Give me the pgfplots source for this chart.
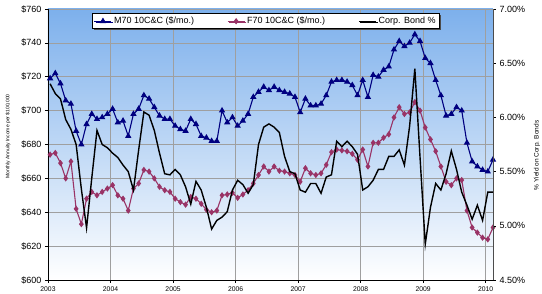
\documentclass[border=0pt]{standalone}
\usepackage{pgfplots}
\pgfplotsset{compat=1.18}
\usepackage{pgfplotstable}
\usepackage{fontspec}
\setmainfont{Liberation Sans}
\usetikzlibrary{shadows}
\definecolor{mblue}{RGB}{0,0,128}
\definecolor{fplum}{RGB}{153,51,102}
\definecolor{bgtop}{RGB}{125,176,236}
\definecolor{bgmid}{RGB}{200,223,247}
\pgfplotstableread{
m m70 f70
0 719 674
1 722 675
2 716 669
3 706 660
4 704 670
5 688 642
6 680 633
7 692 648
8 698 652
9 695 650
10 696 652
11 698 654
12 701 656
13 693 650
14 694 648
15 685 641
16 698 654
17 701 657
18 709 665
19 707 664
20 702 660
21 697 655
22 695 653
23 695 652
24 691 648
25 689 646
26 688 644.5
27 695 649
28 692 648
29 685 645
30 684 641.5
31 682 640
32 682 641
33 700 650
34 693 650.5
35 696 651.5
36 691 648.5
37 694 650.5
38 698 653
39 708 657
40 711 662
41 714 667
42 712 664
43 714 667
44 712 664.5
45 711 664
46 710 663
47 708 662
48 699 658
49 707 666
50 703 663
51 703 662
52 704 663
53 709 668
54 717 675.5
55 718 677
56 718 676.5
57 717 676
58 715 674.5
59 709 671
60 718 677
61 708 667
62 721 681
63 720 681
64 724 684
65 726 686
66 736 696
67 741 702
68 738 698
69 740 699
70 745 705
71 741 700
72 731 690
73 728 683
74 718 676
75 709 667
76 697 658
77 698 656
78 702 660
79 700 659
80 681 641
81 670 631
82 667 628
83 665 625
84 664 624
85 671 631
}\annuity
\pgfplotstableread{
m bond
0 6.31
1 6.22
2 6.17
3 5.98
4 5.89
5 5.75
6 5.34
7 4.98
8 5.44
9 5.88
10 5.75
11 5.72
12 5.67
13 5.63
14 5.56
15 5.50
16 5.33
17 5.70
18 6.05
19 6.02
20 5.88
21 5.67
22 5.48
23 5.47
24 5.52
25 5.47
26 5.36
27 5.20
28 5.41
29 5.33
30 5.17
31 4.97
32 5.05
33 5.08
34 5.13
35 5.33
36 5.42
37 5.38
38 5.30
39 5.38
40 5.75
41 5.91
42 5.94
43 5.91
44 5.86
45 5.64
46 5.50
47 5.48
48 5.33
49 5.31
50 5.39
51 5.39
52 5.30
53 5.45
54 5.47
55 5.78
56 5.73
57 5.78
58 5.73
59 5.66
60 5.33
61 5.36
62 5.42
63 5.52
64 5.52
65 5.64
66 5.64
67 5.70
68 5.56
69 5.92
70 6.45
71 5.63
72 4.83
73 5.17
74 5.39
75 5.33
76 5.48
77 5.69
78 5.52
79 5.31
80 5.19
81 5.06
82 5.19
83 5.05
84 5.31
85 5.31
}\bond
\begin{document}
\begin{tikzpicture}
\useasboundingbox (-48pt,-14pt) rectangle (494pt,280pt);
\begin{axis}[
  at={(0,0)}, anchor=south west,
  scale only axis, width=445pt, height=271pt,
  xmin=-0.4, xmax=85, ymin=600, ymax=760,
  axis x line*=bottom, axis y line*=left,
  axis line style={-, black, line width=0.6pt},
  axis background/.style={top color=bgtop, middle color=bgmid, bottom color=white},
  xtick={-0.4,11.6,23.6,35.6,47.6,59.6,71.6,83.6},
  xticklabels={2003,2004,2005,2006,2007,2008,2009,2010},
  ytick={600,620,640,660,680,700,720,740,760},
  yticklabels={\$600,\$620,\$640,\$660,\$680,\$700,\$720,\$740,\$760},
  xticklabel style={font=\fontsize{6.8}{8}\selectfont},
  yticklabel style={font=\fontsize{9}{10}\selectfont},
  tick align=outside, major tick length=3pt,
  tick style={black, line width=0.5pt},
  xmajorgrids, ymajorgrids,
  major grid style={gray!75, line width=0.5pt},
  ylabel={Monthly Annuity Income per \$100,000},
  ylabel style={font=\fontsize{5}{6}\selectfont, at={(axis description cs:-0.09,0.53)}, anchor=center},
  legend columns=3,
  legend style={at={(0.099,0.984)}, anchor=north west, draw=black, fill=white,
    font=\fontsize{9}{10}\selectfont, inner sep=1.5pt, line width=0.6pt,
    drop shadow={shadow xshift=1.5pt, shadow yshift=-1.5pt, fill=black!70, opacity=1},
    /tikz/every even column/.append style={column sep=31pt}},
  legend image code/.code={\draw[mark repeat=2,mark phase=2] plot coordinates {(0cm,0cm) (0.3cm,0cm) (0.6cm,0cm)};},
]
\addplot[mblue, line width=1.1pt, mark=triangle*, mark size=2.6pt, mark options={solid}] table[x=m, y=m70] {\annuity};
\addlegendentry{M70 10C\&C (\$/mo.)}
\addplot[fplum, line width=1.1pt, mark=diamond*, mark size=2.3pt, mark options={solid}] table[x=m, y=f70] {\annuity};
\addlegendentry{F70 10C\&C (\$/mo.)}
\addlegendimage{black, line width=1.4pt}
\addlegendentry{Corp. Bond \%}
\end{axis}
\begin{axis}[
  at={(0,0)}, anchor=south west,
  scale only axis, width=445pt, height=271pt,
  xmin=-0.4, xmax=85, ymin=4.5, ymax=7.0,
  axis x line=none, axis y line*=right,
  axis line style={-, black!70, line width=0.6pt},
  ytick={4.5,5.0,5.5,6.0,6.5,7.0},
  yticklabels={4.50\%,5.00\%,5.50\%,6.00\%,6.50\%,7.00\%},
  yticklabel style={font=\fontsize{9}{10}\selectfont},
  tick align=outside, major tick length=3pt,
  tick style={black, line width=0.5pt},
  ylabel={\% Yield on Corp. Bonds},
  ylabel style={font=\fontsize{6.5}{7.5}\selectfont, at={(axis description cs:1.099,0.46)}, anchor=center},
]
\addplot[black, line width=1.4pt, mark=none] table[x=m, y=bond] {\bond};
\end{axis}
\end{tikzpicture}
\end{document}
